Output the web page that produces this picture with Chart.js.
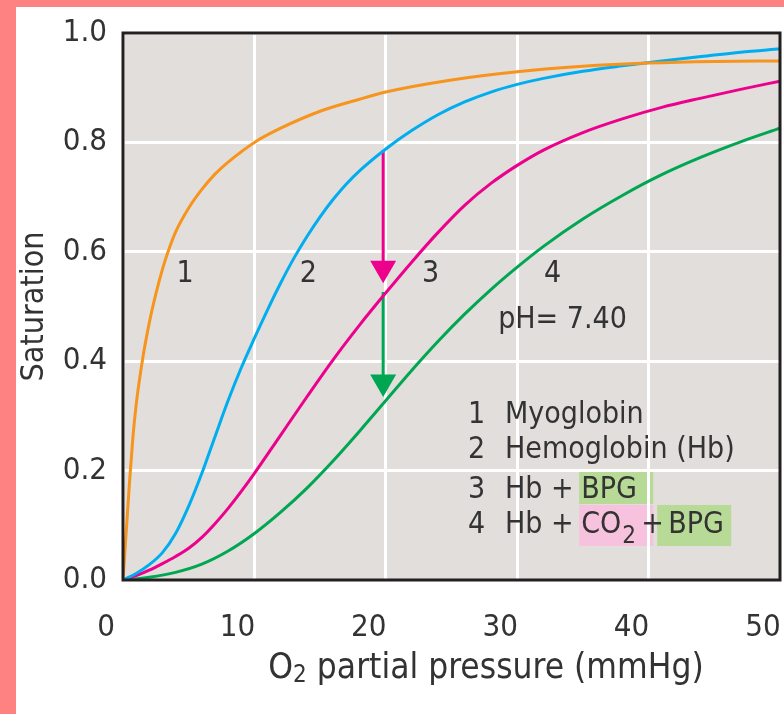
<!DOCTYPE html>
<html>
<head>
<meta charset="utf-8">
<script src="https://cdn.jsdelivr.net/npm/chart.js@4.4.1/dist/chart.umd.min.js"></script>
<style>
  html, body { margin: 0; padding: 0; background: #fe8282; overflow: hidden; }
  #wrap { position: absolute; left: 16px; top: 7px; width: 768px; height: 707px; background: #fff; }
</style>
</head>
<body>
<div id="wrap"><canvas id="chart" width="768" height="707"></canvas></div>
<script>
// O2 binding curves: pressure (mmHg) -> saturation
const mbP = [0, 0.25, 0.5, 0.75, 1, 1.5, 2, 2.5, 3, 3.5, 4, 5, 6, 7, 8, 10, 12, 15, 18, 20, 25, 30, 35, 40, 45, 50];
const mbS = [0, 0.09, 0.18, 0.26, 0.32, 0.405, 0.47, 0.523, 0.568, 0.605, 0.636, 0.68, 0.714, 0.742, 0.764, 0.80, 0.826, 0.857, 0.879, 0.892, 0.914, 0.929, 0.939, 0.945, 0.948, 0.949];

const hbP = [0, 1, 2, 3, 4, 5, 6, 7, 8, 9, 10, 11, 12, 13, 14, 15, 16, 17, 18, 20, 22, 24, 26, 28, 30, 32, 35, 38, 41, 44, 47, 50];
const hbS = [0, 0.012, 0.028, 0.05, 0.085, 0.135, 0.195, 0.262, 0.328, 0.388, 0.442, 0.494, 0.543, 0.588, 0.628, 0.664, 0.696, 0.724, 0.748, 0.788, 0.822, 0.851, 0.874, 0.892, 0.906, 0.917, 0.93, 0.94, 0.949, 0.957, 0.965, 0.971];

const bpgP = [0, 1, 2, 3, 4, 5, 6, 7, 8, 9, 10, 12, 14, 16, 18, 20, 22, 24, 26, 28, 30, 32, 35, 38, 41, 44, 47, 50];
const bpgS = [0, 0.008, 0.018, 0.03, 0.043, 0.058, 0.078, 0.103, 0.131, 0.162, 0.195, 0.265, 0.335, 0.403, 0.466, 0.525, 0.582, 0.636, 0.685, 0.725, 0.758, 0.786, 0.818, 0.843, 0.864, 0.881, 0.897, 0.912];

const co2P = [0, 2, 4, 6, 8, 10, 12, 14, 16, 18, 20, 22, 24, 26, 28, 30, 32, 35, 38, 41, 44, 47, 50];
const co2S = [0, 0.005, 0.014, 0.029, 0.053, 0.085, 0.124, 0.168, 0.218, 0.272, 0.328, 0.384, 0.437, 0.486, 0.531, 0.572, 0.61, 0.66, 0.703, 0.741, 0.773, 0.801, 0.826];

// arrows at the same pressure: Hb -> Hb+BPG -> Hb+CO2+BPG
const arrowP = 19.8;
const arrow1 = [0.786, 0.58];   // shaft, head centre below
const arrow1Head = 0.570;
const arrow2 = [0.5265, 0.37];
const arrow2Head = 0.362;

const xTicks = [0, 10, 20, 30, 40, 50];
const yTicks = [0, 0.2, 0.4, 0.6, 0.8, 1.0];

// curve numbers and legend
const curveNums = ['1', '2', '3', '4'];
const curveNumP = [4.72, 14.1, 23.4, 32.7];
const curveNumS = 0.545;
const legendNames = ['Myoglobin', 'Hemoglobin (Hb)', 'Hb + BPG', 'Hb + CO2 + BPG'];
const legendS = [0.287, 0.223, 0.150, 0.086];
const legendNumP = 26.26, legendTextP = 29.07;
const phText = 'pH= 7.40', phP = 28.55, phS = 0.461;

const colors = ['#f7941d', '#00aeef', '#ec008c', '#00a651'];
const FONT = "'DejaVu Sans Condensed', 'DejaVu Sans', sans-serif";
const TXT = '#333';

const pts = (p, s) => p.map((v, i) => ({ x: v, y: s[i] }));

function curve(label, p, s, color) {
    return {
        label: label,
        data: pts(p, s),
        borderColor: color,
        borderWidth: 3,
        pointRadius: 0,
        cubicInterpolationMode: 'monotone',
        fill: false
    };
}
function shaft(vals, color) {
    return { data: vals.map(v => ({ x: arrowP, y: v })), borderColor: color, borderWidth: 3, pointRadius: 0 };
}
function head(v, color) {
    return {
        data: [{ x: arrowP, y: v }], showLine: false, pointStyle: 'triangle', rotation: 180,
        pointRadius: 15, pointBackgroundColor: color, pointBorderWidth: 0, pointBorderColor: color
    };
}

// legend boxes under the grid, text on top
function legendLayout(chart) {
    const { ctx, scales: { x, y } } = chart;
    ctx.font = '30px ' + FONT;
    const tx = x.getPixelForValue(legendTextP);
    const bx = tx + ctx.measureText('Hb + ').width - 3;
    return { tx, bx, y3: y.getPixelForValue(legendS[2]), y4: y.getPixelForValue(legendS[3]) };
}

const decor = {
    id: 'decor',
    beforeDraw(chart) {
        const { ctx, chartArea: a } = chart;
        ctx.save();
        ctx.fillStyle = '#e1dedc';
        ctx.fillRect(a.left, a.top, a.right - a.left, a.bottom - a.top);
        const L = legendLayout(chart);
        ctx.fillStyle = '#b7da96';
        ctx.fillRect(L.bx, L.y3 - 27, 74, 33);
        ctx.fillRect(L.bx + 78, L.y4 - 28, 74, 41);
        ctx.fillStyle = '#f7c2dd';
        ctx.fillRect(L.bx, L.y4 - 28, 74, 41);
        ctx.restore();
    },
    afterDraw(chart) {
        const { ctx, chartArea: a, scales: { x, y } } = chart;
        ctx.save();
        // frame
        ctx.strokeStyle = '#231f20';
        ctx.lineWidth = 3;
        ctx.strokeRect(a.left, a.top, a.right - a.left, a.bottom - a.top);

        ctx.fillStyle = TXT;
        ctx.textBaseline = 'alphabetic';
        ctx.font = '30px ' + FONT;

        // curve numbers
        ctx.textAlign = 'center';
        curveNums.forEach((n, i) => ctx.fillText(n, x.getPixelForValue(curveNumP[i]), y.getPixelForValue(curveNumS)));

        ctx.textAlign = 'left';
        ctx.fillText(phText, x.getPixelForValue(phP), y.getPixelForValue(phS));

        // legend
        const L = legendLayout(chart);
        const nx = x.getPixelForValue(legendNumP);
        curveNums.forEach((n, i) => ctx.fillText(n, nx, y.getPixelForValue(legendS[i])));
        ctx.fillText(legendNames[0], L.tx, y.getPixelForValue(legendS[0]));
        ctx.fillText(legendNames[1], L.tx, y.getPixelForValue(legendS[1]));
        ctx.fillText('Hb +', L.tx, L.y3);
        ctx.fillText('BPG', L.bx + 2, L.y3);
        ctx.fillText('Hb +', L.tx, L.y4);
        ctx.fillText('CO', L.bx + 2, L.y4);
        const coW = ctx.measureText('CO').width;
        ctx.fillText('+', L.bx + 62, L.y4);
        ctx.fillText('BPG', L.bx + 89, L.y4);
        ctx.font = '24px ' + FONT;
        ctx.fillText('2', L.bx + 3 + coW, L.y4 + 10);

        // x title with subscript
        const by = 671;
        ctx.font = '35px ' + FONT;
        const wO = ctx.measureText('O').width;
        const rest = ' partial pressure (mmHg)';
        const wR = ctx.measureText(rest).width;
        ctx.font = '24px ' + FONT;
        const w2 = ctx.measureText('2').width;
        let sx = 470 - (wO + w2 + wR) / 2;
        ctx.font = '35px ' + FONT;
        ctx.fillText('O', sx, by);
        ctx.font = '24px ' + FONT;
        ctx.fillText('2', sx + wO, by + 4);
        ctx.font = '35px ' + FONT;
        ctx.fillText(rest, sx + wO + w2, by);

        // y title
        ctx.translate(27, (a.top + a.bottom) / 2);
        ctx.rotate(-Math.PI / 2);
        ctx.textAlign = 'center';
        ctx.font = '32px ' + FONT;
        ctx.fillText('Saturation', 0, 0);
        ctx.restore();
    }
};

new Chart(document.getElementById('chart'), {
    type: 'line',
    data: {
        datasets: [
            curve('Myoglobin', mbP, mbS, colors[0]),
            curve('Hemoglobin (Hb)', hbP, hbS, colors[1]),
            curve('Hb + BPG', bpgP, bpgS, colors[2]),
            curve('Hb + CO2 + BPG', co2P, co2S, colors[3]),
            shaft(arrow1, colors[2]),
            head(arrow1Head, colors[2]),
            shaft(arrow2, colors[3]),
            head(arrow2Head, colors[3])
        ]
    },
    options: {
        responsive: false,
        animation: false,
        devicePixelRatio: 1,
        layout: { autoPadding: false, padding: { top: 26, right: 4, left: 0, bottom: 0 } },
        plugins: { legend: { display: false }, tooltip: { enabled: false } },
        scales: {
            x: {
                type: 'linear', min: 0, max: 50,
                afterBuildTicks: s => { s.ticks = xTicks.map(v => ({ value: v })); },
                afterFit: s => { s.height = 134; s.paddingLeft = 0; s.paddingRight = 0; },
                grid: { color: '#ffffff', lineWidth: 3, drawTicks: false },
                border: { display: false },
                ticks: { color: TXT, font: { family: FONT, size: 31 }, padding: 29, labelOffset: -17, maxRotation: 0 }
            },
            y: {
                type: 'linear', min: 0, max: 1,
                afterBuildTicks: s => { s.ticks = yTicks.map(v => ({ value: v })); },
                afterFit: s => { s.width = 107; s.paddingTop = 0; s.paddingBottom = 0; },
                grid: { color: '#ffffff', lineWidth: 3, drawTicks: false },
                border: { display: false },
                ticks: { color: TXT, font: { family: FONT, size: 31 }, padding: 16, callback: v => v.toFixed(1) }
            }
        }
    },
    plugins: [decor]
});
</script>
</body>
</html>
